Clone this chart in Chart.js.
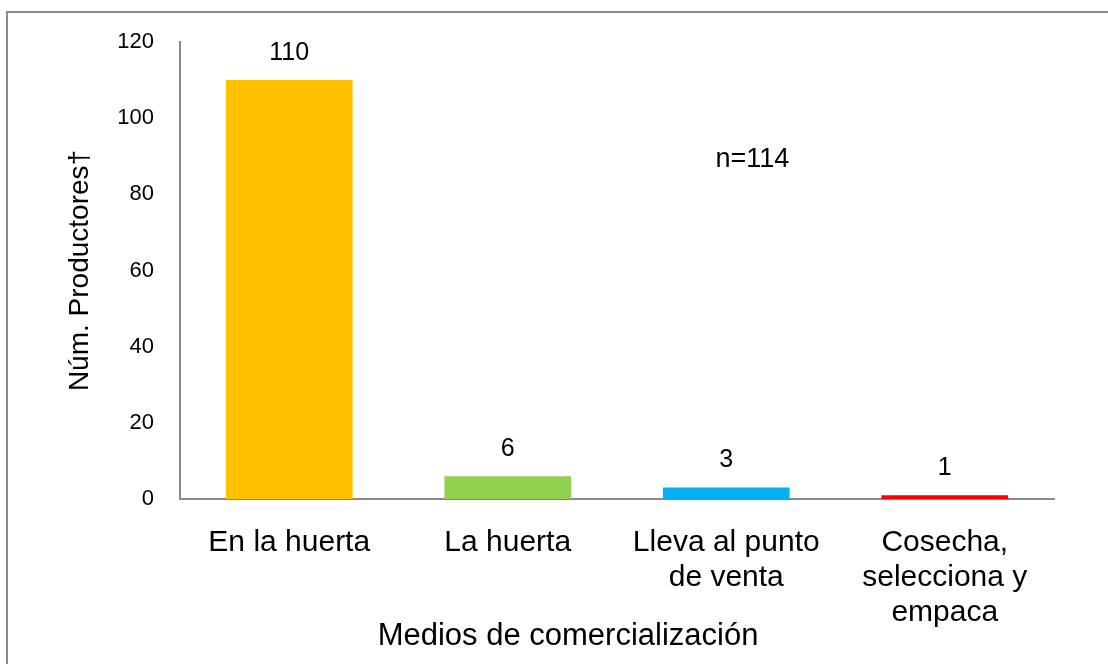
<!DOCTYPE html>
<html>
<head>
<meta charset="utf-8">
<script src="https://cdn.jsdelivr.net/npm/chart.js@4/dist/chart.umd.min.js"></script>
<style>
  html, body { margin: 0; padding: 0; background: #fff; }
  #wrap { width: 1108px; height: 664px; }
</style>
</head>
<body>
<div id="wrap"><canvas id="chart"></canvas></div>
<script>
// data
const categories = [
    ['En la huerta'],
    ['La huerta'],
    ['Lleva al punto', 'de venta'],
    ['Cosecha,', 'selecciona y', 'empaca']
];
const productores = [110, 6, 3, 1];
const barColors = ['#FFC000', '#92D050', '#00B0F0', '#FF0000'];
const yTicks = [0, 20, 40, 60, 80, 100, 120];
const note = 'n=114';
const xTitle = 'Medios de comercialización';

const FONT = '"Liberation Sans", Arial, sans-serif';

// frame, value labels, note and x title
const extras = {
    id: 'extras',
    beforeDraw(chart) {
        const c = chart.ctx;
        c.save();
        c.strokeStyle = '#8c8c8c';
        c.lineWidth = 2;
        c.strokeRect(7, 12, 1200, 800);
        c.restore();
    },
    afterDatasetsDraw(chart) {
        const c = chart.ctx;
        const meta = chart.getDatasetMeta(0);
        const a = chart.chartArea;
        c.save();
        c.fillStyle = '#000';
        c.textAlign = 'center';
        c.textBaseline = 'middle';
        c.font = '25px ' + FONT;
        meta.data.forEach((bar, i) => {
            c.fillText(String(productores[i]), bar.x, bar.y - 27);
        });
        c.font = '27px ' + FONT;
        c.fillText(note, a.left + (a.right - a.left) * 0.655, a.top + 118);
        c.font = '31px ' + FONT;
        c.fillText(xTitle, a.left + (a.right - a.left) * 0.444, 636);
        c.restore();
    }
};

new Chart(document.getElementById('chart'), {
    type: 'bar',
    data: {
        labels: categories,
        datasets: [{
            data: productores,
            backgroundColor: barColors,
            borderWidth: 0,
            barPercentage: 0.58,
            categoryPercentage: 1
        }]
    },
    options: {
        responsive: true,
        maintainAspectRatio: false,
        animation: false,
        devicePixelRatio: 1,
        layout: { padding: { left: 7, right: 54, top: 42, bottom: 0 } },
        plugins: { legend: { display: false }, tooltip: { enabled: false } },
        scales: {
            x: {
                grid: { display: false, drawTicks: false },
                border: { display: true, color: '#888', width: 2 },
                ticks: {
                    color: '#000',
                    font: { family: FONT, size: 30, lineHeight: 1.17 },
                    padding: 26,
                    maxRotation: 0,
                    autoSkip: false
                },
                afterFit(s) { s.height = 165; }
            },
            y: {
                min: 0,
                max: 120,
                grid: { display: false, drawTicks: false },
                border: { display: true, color: '#888', width: 2 },
                afterBuildTicks(s) { s.ticks = yTicks.map(v => ({ value: v })); },
                ticks: {
                    color: '#000',
                    font: { family: FONT, size: 22 },
                    padding: 26
                },
                title: {
                    display: true,
                    text: 'Núm. Productores†',
                    color: '#000',
                    font: { family: FONT, size: 28, lineHeight: 1.2 },
                    padding: { top: 56, bottom: 0 }
                },
                afterFit(s) { s.width = 173; }
            }
        }
    },
    plugins: [extras]
});
</script>
</body>
</html>
